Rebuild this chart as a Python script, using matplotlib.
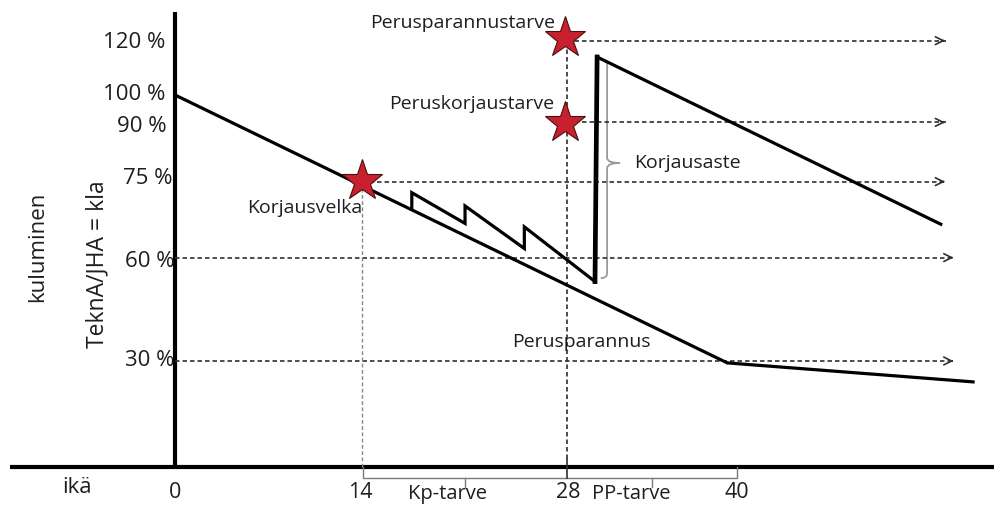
import numpy as np
import matplotlib.pyplot as plt
from matplotlib.path import Path
from matplotlib.patches import PathPatch

plt.rcParams['font.family'] = ['Open Sans', 'DejaVu Sans']

# ---------- values ---------- #
# x = age (years), y = level on the schematic axis (0 = age axis)
main_x = [0, 39.3, 56.8]
main_y = [97.9, 27.4, 22.4]

saw_x = [16.85, 16.85, 20.64, 20.64, 24.86, 24.86, 29.89]
saw_y = [67.8, 72.2, 64.1, 68.7, 57.5, 63.2, 48.8]
jump_x = [29.89, 30.04]
jump_y = [48.8, 107.9]
after_x = [30.04, 54.5]
after_y = [107.9, 63.9]

star_x = [13.31, 27.76, 27.76]
star_y = [75.3, 90.5, 112.9]

# dashed guide lines: level, start, end
guide_y = [112.2, 90.7, 75.1, 55.1, 27.9]
guide_x0 = [27.9, 27.9, 13.31, 0, 0]
guide_x1 = [55.0, 55.0, 55.0, 55.6, 55.6]

vline_x = [13.31, 27.9]
vline_top = [75.1, 112.2]

ytick_pos = [111.8, 97.9, 89.5, 76.0, 54.2, 27.9]
ytick_lab = ['120 %', '100 %', '90 %', '75 %', '60 %', '30 %']
ytick_right = [-0.66, -0.71, -0.62, -0.2, -0.05, -0.05]

xtick_pos = [0, 13.2, 28.0, 40.0]
xtick_lab = ['0', '14', '28', '40']

bracket_x = [13.36, 27.9, 39.98]
bracket_mid = [20.64, 33.97]
bracket_lab = ['Kp-tarve', 'PP-tarve']
bracket_lab_x = [19.4, 32.5]

notes = ['Perusparannustarve', 'Peruskorjaustarve', 'Korjausvelka', 'Korjausaste', 'Perusparannus']
notes_x = [20.5, 21.1, 9.25, 36.5, 28.9]
notes_y = [116.8, 95.5, 68.2, 80.0, 33.0]

fig = plt.figure(figsize=(9.95, 5.05), dpi=100)
ax = fig.add_axes([0, 0, 1, 1])
ax.set_xlim(-12.46, 58.36)
ax.set_ylim(-10, 122.9)
ax.axis('off')

txt = '#1d1d24'
dash = (0, (2.7, 1.8))

# axes
ax.plot([0, 0], [0, 119.7], color='black', lw=3, solid_capstyle='butt')
ax.plot([-11.74, 58.36], [0, 0], color='black', lw=3, solid_capstyle='butt')

# guides
for y, a, b in zip(guide_y, guide_x0, guide_x1):
    ax.plot([a, b - 0.15], [y, y], color='#303030', lw=1.2, ls=dash)
    ax.annotate('', xy=(b, y), xytext=(b - 0.6, y),
                arrowprops=dict(arrowstyle='->', mutation_scale=14, color='#303030', lw=1.2))
ax.plot([vline_x[0]] * 2, [0, vline_top[0]], color='#888888', lw=1.0, ls=dash)
ax.plot([vline_x[1]] * 2, [2.1, vline_top[1]], color='#303030', lw=1.2, ls=dash)

# curves
ax.plot(main_x, main_y, color='black', lw=2.3, solid_joinstyle='miter')
ax.plot(saw_x, saw_y, color='black', lw=2.3, solid_joinstyle='miter')
ax.plot(jump_x, jump_y, color='black', lw=3.4)
ax.plot(after_x, after_y, color='black', lw=2.3)

# brace (Korjausaste)
bx, by0, by1, bym, bw = 30.75, 105.8, 51.0, 80.0, 0.9
verts = [(bx - 0.45, by0 + 1.3), (bx, by0 + 1.3), (bx, by0), (bx, bym + 1.4),
         (bx, bym), (bx + bw, bym), (bx, bym), (bx, bym - 1.4),
         (bx, by1), (bx, by1 - 1.3), (bx - 0.45, by1 - 1.3)]
codes = [Path.MOVETO, Path.CURVE3, Path.CURVE3, Path.LINETO,
         Path.CURVE3, Path.CURVE3, Path.CURVE3, Path.CURVE3,
         Path.LINETO, Path.CURVE3, Path.CURVE3]
ax.add_patch(PathPatch(Path(verts, codes), fill=False, edgecolor='#9a9a9a', lw=1.3))

# stars
ax.plot(star_x, star_y, ls='none', marker='*', ms=31, mfc='#c8202f', mec='#4a1010', mew=0.8)

# brackets under the axis
ax.plot([bracket_x[0], bracket_x[0], bracket_x[2], bracket_x[2]], [0, -2.8, -2.8, 0],
        color='#7a7a7a', lw=1.0)
ax.plot([bracket_x[1]] * 2, [2.1, -2.8], color='#303030', lw=1.2)
for m in bracket_mid:
    ax.plot([m, m], [-2.8, -5.2], color='#7a7a7a', lw=1.0)
for lab, x in zip(bracket_lab, bracket_lab_x):
    ax.text(x, -7.0, lab, ha='center', va='center', fontsize=14.5, color=txt)

# ticks
for p, lab, r in zip(ytick_pos, ytick_lab, ytick_right):
    ax.text(r, p, lab, ha='right', va='center', fontsize=16, color=txt)
for p, lab in zip(xtick_pos, xtick_lab):
    ax.text(p, -6.8, lab, ha='center', va='center', fontsize=15.5, color=txt)
ax.text(-7.0, -5.5, 'ikä', ha='center', va='center', fontsize=16, color=txt)

ax.text(-9.8, 58.0, 'kuluminen', rotation=90, ha='center', va='center', fontsize=16, color=txt)
ax.text(-5.5, 53.3, 'TeknA/JHA = kla', rotation=90, ha='center', va='center', fontsize=16.5, color=txt)

for s, x, y in zip(notes, notes_x, notes_y):
    ax.text(x, y, s, ha='center', va='center', fontsize=14, color=txt)

fig.savefig('out.png', dpi=100)
